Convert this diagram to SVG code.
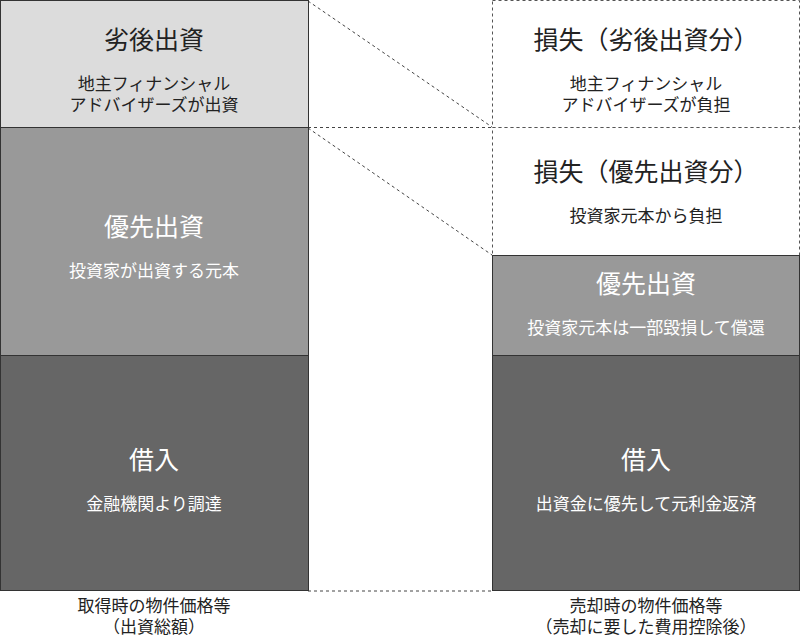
<svg xmlns="http://www.w3.org/2000/svg" width="800" height="639" viewBox="0 0 800 639">
<style>
text{font-family:"Noto Sans CJK JP","Noto Sans",sans-serif;text-anchor:middle}
.t{font-size:25px}
.s{font-size:17px}
.dk{fill:#222}
.wt{fill:#fff}
.box{stroke:#333;stroke-width:1}
.dash{fill:#fff;stroke:#555;stroke-width:1;stroke-dasharray:3,3}
.conn{stroke:#444;stroke-width:1;stroke-dasharray:3,3;fill:none}
</style>
<rect width="800" height="639" fill="#fff"/>
<g id="connectors">
<line class="conn" x1="308" y1="1" x2="492" y2="127"/>
<line class="conn" x1="308" y1="128" x2="492" y2="255"/>
<line class="conn" x1="308" y1="127.5" x2="492" y2="127.5"/>
<line class="conn" x1="308" y1="591" x2="492" y2="591"/>
</g>
<g id="left-sub">
<rect class="box" x="0.5" y="0.5" width="308" height="127" fill="#dcdcdc"/>
<text class="t dk" x="154" y="49">劣後出資</text>
<text class="s dk" x="154" y="90">地主フィナンシャル</text>
<text class="s dk" x="154" y="111">アドバイザーズが出資</text>
</g>
<g id="left-senior">
<rect class="box" x="0.5" y="127.5" width="308" height="228" fill="#999"/>
<text class="t wt" x="154" y="236">優先出資</text>
<text class="s wt" x="154" y="277">投資家が出資する元本</text>
</g>
<g id="left-loan">
<rect class="box" x="0.5" y="355.5" width="308" height="235" fill="#666"/>
<text class="t wt" x="154" y="469">借入</text>
<text class="s wt" x="154" y="510">金融機関より調達</text>
</g>
<g id="right-loss-sub">
<rect class="dash" x="492.5" y="0.5" width="307" height="127"/>
<text class="t dk" x="646" y="49">損失（劣後出資分）</text>
<text class="s dk" x="646" y="90">地主フィナンシャル</text>
<text class="s dk" x="646" y="111">アドバイザーズが負担</text>
</g>
<g id="right-loss-senior">
<rect class="dash" x="492.5" y="127.5" width="307" height="128"/>
<text class="t dk" x="646" y="181">損失（優先出資分）</text>
<text class="s dk" x="646" y="222">投資家元本から負担</text>
</g>
<g id="right-senior">
<rect class="box" x="492.5" y="255.5" width="307" height="100" fill="#999"/>
<text class="t wt" x="646" y="293">優先出資</text>
<text class="s wt" x="646" y="334">投資家元本は一部毀損して償還</text>
</g>
<g id="right-loan">
<rect class="box" x="492.5" y="355.5" width="307" height="235" fill="#666"/>
<text class="t wt" x="646" y="469">借入</text>
<text class="s wt" x="646" y="510">出資金に優先して元利金返済</text>
</g>
<g id="label-left">
<text class="s dk" x="154" y="612">取得時の物件価格等</text>
<text class="s dk" x="154" y="633">（出資総額）</text>
</g>
<g id="label-right">
<text class="s dk" x="646" y="612">売却時の物件価格等</text>
<text class="s dk" x="646" y="633">（売却に要した費用控除後）</text>
</g>
</svg>
